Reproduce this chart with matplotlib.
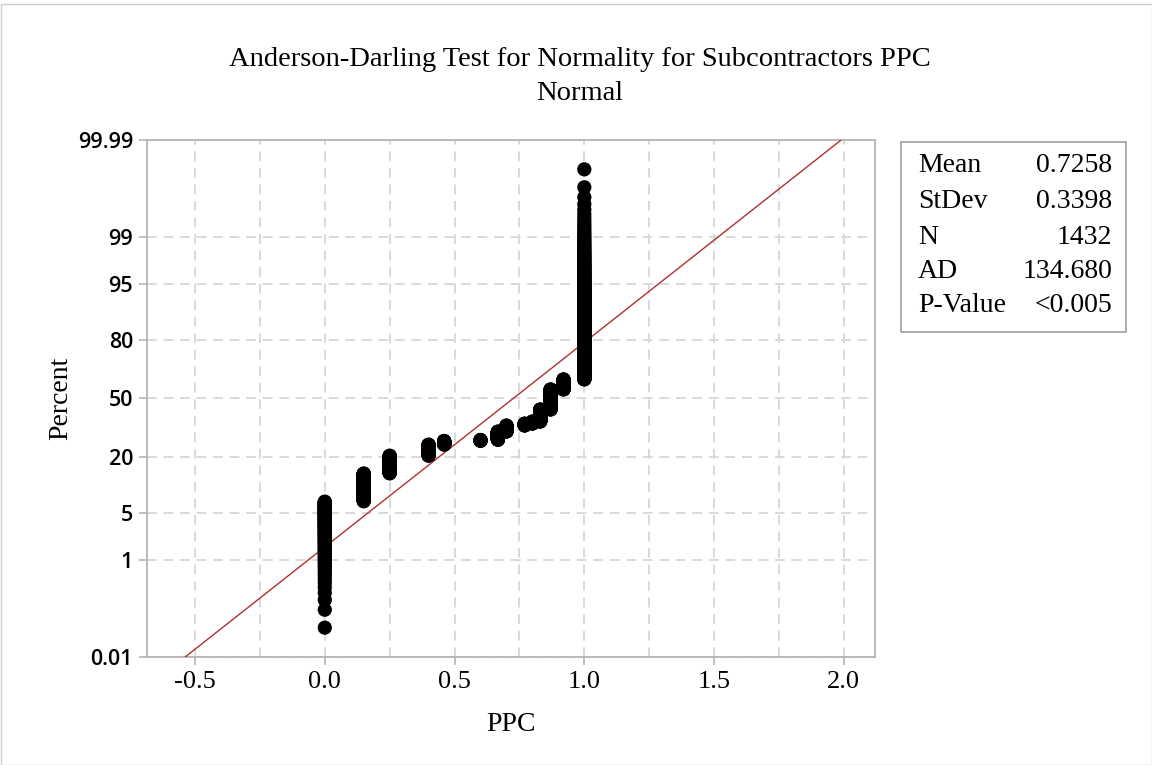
import numpy as np
import matplotlib
matplotlib.use("Agg")
import matplotlib.pyplot as plt
from matplotlib.patches import Rectangle
from statistics import NormalDist

# ---- data (distinct PPC values and how many observations share each) ----
ppc_values = [0.0, 0.15, 0.25, 0.40, 0.46, 0.60, 0.667, 0.70, 0.77, 0.80, 0.83, 0.87, 0.92, 1.0]
ppc_counts = [99, 102, 93, 69, 25, 7, 59, 45, 15, 16, 96, 164, 81, 561]

stat_labels = ["Mean", "StDev", "N", "AD", "P-Value"]
stat_values = ["0.7258", "0.3398", "1432", "134.680", "<0.005"]
fit_mean = 0.7258
fit_sd = 0.3398

y_ticks = [0.01, 1, 5, 20, 50, 80, 95, 99, 99.99]
y_ticklabels = ["0.01", "1", "5", "20", "50", "80", "95", "99", "99.99"]
x_ticks = [-0.5, 0.0, 0.5, 1.0, 1.5, 2.0]
x_ticklabels = ["-0.5", "0.0", "0.5", "1.0", "1.5", "2.0"]

# ---- probability scale ----
_nd = NormalDist()
_ppf = np.vectorize(lambda p: _nd.inv_cdf(min(max(p / 100.0, 1e-12), 1 - 1e-12)), otypes=[float])
_cdf = np.vectorize(lambda z: _nd.cdf(z) * 100.0, otypes=[float])

def fwd(p):
    return _ppf(np.asarray(p, dtype=float))

def inv(z):
    return _cdf(np.asarray(z, dtype=float))

data = np.sort(np.repeat(ppc_values, ppc_counts))
n = len(data)
ranks = np.arange(1, n + 1)
pct = (ranks - 0.3) / (n + 0.4) * 100.0

serif = "Liberation Serif"
sans = "Open Sans"

fig = plt.figure(figsize=(11.52, 7.65), dpi=100)
ax = fig.add_axes([147 / 1152, 1 - 657 / 765, (875 - 147) / 1152, (657 - 140) / 765])
ax.set_yscale("function", functions=(fwd, inv))

# fitted line
pl = np.array([0.01, 99.99])
xl = np.array([fit_mean + fit_sd * _nd.inv_cdf(p / 100) for p in pl])
ax.plot(xl, pl, color="#B03030", lw=1.0, zorder=3)

ax.scatter(data, pct, s=105, color="black", edgecolors="none", zorder=4)

ax.set_xlim(-0.685, 2.12)
ax.set_ylim(0.01, 99.99)
ax.set_yticks(y_ticks)
ax.set_yticklabels(y_ticklabels, fontfamily=sans, fontsize=15.5, fontweight="semibold")
ax.yaxis.set_minor_locator(matplotlib.ticker.NullLocator())
ax.set_xticks(x_ticks)
ax.set_xticklabels(x_ticklabels, fontfamily=serif, fontsize=19)
ax.set_xticks(np.arange(-0.5, 2.01, 0.25), minor=True)

grid_kw = dict(color="#d9d9d9", lw=1.4, ls=(0, (5, 3.5)))
ax.grid(True, which="both", axis="x", **grid_kw)
ax.grid(True, which="major", axis="y", **grid_kw)
ax.set_axisbelow(True)

for s in ax.spines.values():
    s.set_color("#b4b4b4")
    s.set_linewidth(1.3)
ax.tick_params(axis="both", which="major", color="#b4b4b4", length=6, width=1.2, pad=4)
ax.tick_params(axis="x", which="minor", length=0)

ax.set_xlabel("PPC", fontfamily=serif, fontsize=20, labelpad=14)
ax.set_ylabel("Percent", fontfamily=serif, fontsize=20, labelpad=3)

fig.text(0.503, 1 - 59 / 765, "Anderson-Darling Test for Normality for Subcontractors PPC",
         ha="center", va="center", fontfamily=serif, fontsize=20.5)
fig.text(0.503, 1 - 94 / 765, "Normal", ha="center", va="center", fontfamily=serif, fontsize=20.5)

# statistics box
bx0, by0, bx1, by1 = 901, 142, 1126, 332
fig.patches.append(Rectangle((bx0 / 1152, 1 - by1 / 765), (bx1 - bx0) / 1152, (by1 - by0) / 765,
                             transform=fig.transFigure, fill=False, edgecolor="#a0a0a0", lw=1.2))
row_y = [166, 201, 237, 271, 306]
for lab, val, yy in zip(stat_labels, stat_values, row_y):
    fig.text(918 / 1152, 1 - yy / 765, lab, ha="left", va="center", fontfamily=serif, fontsize=20)
    fig.text(1112 / 1152, 1 - yy / 765, val, ha="right", va="center", fontfamily=serif, fontsize=20)

# outer frame
fig.patches.append(Rectangle((0.5 / 1152, 0.5 / 765), 1 - 1 / 1152, 1 - 4 / 765, transform=fig.transFigure,
                             fill=False, edgecolor="#d0d0d0", lw=1.0))

fig.savefig("out.png", dpi=100)
